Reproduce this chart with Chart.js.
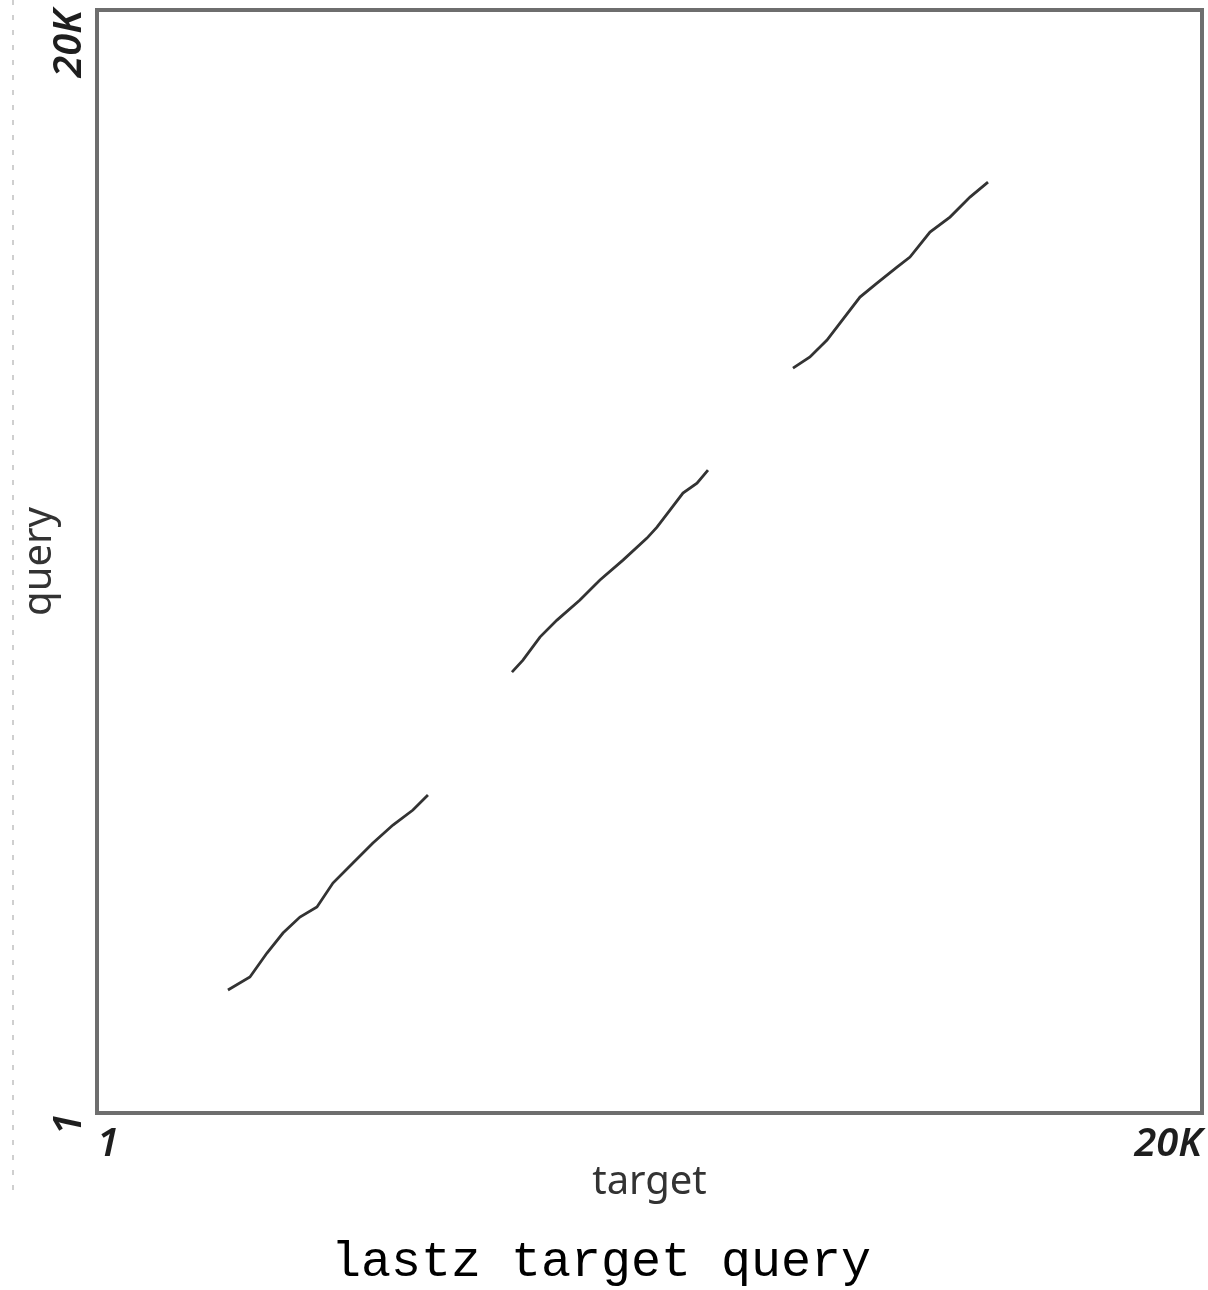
<!DOCTYPE html>
<html>
<head>
<meta charset="utf-8">
<script src="https://cdn.jsdelivr.net/npm/chart.js@4"></script>
<style>
  body { margin: 0; background: #fff; }
  #wrap { position: relative; width: 1208px; height: 1290px; }
  #rule {
    position: absolute; left: 12px; top: 0; width: 2px; height: 1200px;
    background: repeating-linear-gradient(to bottom, #cfcfcf 0 5px, transparent 5px 15px);
  }
</style>
</head>
<body>
<div id="wrap">
  <div id="rule"></div>
  <canvas id="dotplot"></canvas>
</div>
<script>
// alignment segments (target position, query position)
const seg1Target = [2371, 2769, 3077, 3367, 3674, 3982, 4271, 4633, 4995, 5357, 5719, 5991];
const seg1Query  = [2230, 2466, 2901, 3264, 3554, 3735, 4170, 4533, 4896, 5222, 5494, 5766];

const seg2Target = [7511, 7710, 8018, 8326, 8742, 9104, 9521, 9955, 10136, 10371, 10606, 10860, 11059];
const seg2Query  = [7995, 8213, 8630, 8938, 9301, 9664, 10026, 10425, 10624, 10933, 11241, 11422, 11657];

const seg3Target = [12597, 12905, 13213, 13448, 13810, 14118, 14480, 14715, 15077, 15439, 15801, 16127];
const seg3Query  = [13508, 13708, 14016, 14324, 14795, 15049, 15339, 15520, 15973, 16245, 16608, 16880];

const tickValues = [1, 20000];
const tickLabels = ["1", "20K"];

const toPoints = (xs, ys) => xs.map((x, i) => ({ x: x, y: ys[i] }));

const segment = (xs, ys) => ({
  data: toPoints(xs, ys),
  showLine: true,
  borderColor: "#333",
  borderWidth: 2.8,
  pointRadius: 0,
  tension: 0
});

// box around the plotting area
const frame = {
  id: "frame",
  beforeDatasetsDraw(chart) {
    const { ctx, chartArea: a } = chart;
    ctx.save();
    ctx.strokeStyle = "#6e6e6e";
    ctx.lineWidth = 4;
    ctx.strokeRect(a.left, a.top, a.right - a.left, a.bottom - a.top);
    ctx.restore();
  }
};

const tickFont = { family: "'Noto Sans', sans-serif", size: 40, style: "italic", weight: "600" };
const titleFont = { family: "'Noto Sans', sans-serif", size: 40 };

const fixedTicks = scale => {
  scale.ticks = tickValues.map(v => ({ value: v }));
};
const tickText = v => tickLabels[tickValues.indexOf(v)];

new Chart(document.getElementById("dotplot"), {
  type: "scatter",
  data: {
    datasets: [
      segment(seg1Target, seg1Query),
      segment(seg2Target, seg2Query),
      segment(seg3Target, seg3Query)
    ]
  },
  options: {
    responsive: true,
    maintainAspectRatio: false,
    animation: false,
    layout: { padding: { left: 0, top: 10, right: 6, bottom: 0 } },
    plugins: {
      legend: { display: false },
      tooltip: { enabled: false },
      title: {
        display: true,
        position: "bottom",
        text: "lastz target query",
        color: "#000",
        font: { family: "'Liberation Mono', 'Courier New', monospace", size: 50, weight: "normal", lineHeight: 1.1 },
        padding: { top: 10, bottom: 0 }
      }
    },
    scales: {
      x: {
        type: "linear",
        min: 1,
        max: 20000,
        grid: { display: false, drawTicks: false },
        border: { display: false },
        afterBuildTicks: fixedTicks,
        afterFit: s => { s.height = 112; s.paddingLeft = 0; s.paddingRight = 0; },
        ticks: {
          callback: tickText,
          align: "inner",
          maxRotation: 0,
          minRotation: 0,
          padding: 8,
          color: "#1e1e1e",
          font: tickFont
        },
        title: {
          display: true,
          text: "target",
          color: "#333",
          font: titleFont,
          padding: { top: 0, bottom: 18 }
        }
      },
      y: {
        type: "linear",
        min: 1,
        max: 20000,
        grid: { display: false, drawTicks: false },
        border: { display: false },
        afterBuildTicks: fixedTicks,
        afterFit: s => { s.width = 97; s.paddingTop = 0; s.paddingBottom = 0; },
        ticks: {
          callback: tickText,
          crossAlign: "near",
          minRotation: 90,
          maxRotation: 90,
          padding: 27,
          color: "#1e1e1e",
          font: tickFont
        },
        title: {
          display: true,
          text: "query",
          color: "#333",
          font: titleFont,
          padding: { top: 16, bottom: 0 }
        }
      }
    }
  },
  plugins: [frame]
});
</script>
</body>
</html>
